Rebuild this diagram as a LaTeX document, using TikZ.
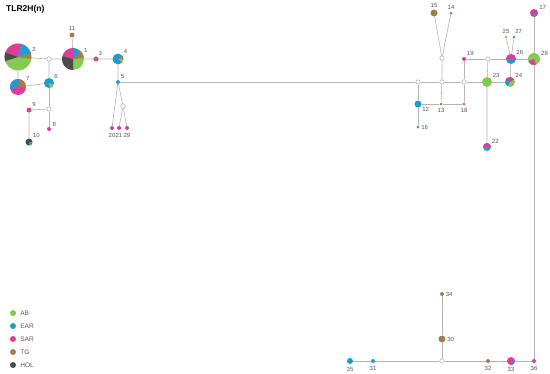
\documentclass[tikz,border=0pt]{standalone}
\usepackage{fontspec}
\setmainfont{Liberation Sans}
\usetikzlibrary{positioning}
\definecolor{colAB}{HTML}{86C94F}
\definecolor{colEAR}{HTML}{1D9ED3}
\definecolor{colSAR}{HTML}{E03A9B}
\definecolor{colTG}{HTML}{A87A4E}
\definecolor{colHOL}{HTML}{4B4B4B}
\definecolor{edgegray}{HTML}{B4B4B4}
\definecolor{numgray}{HTML}{555555}
\tikzset{
  hap/.style={circle, inner sep=0pt, minimum size=#1},
  medv/.style={circle, draw=edgegray, fill=white, line width=0.6pt, inner sep=0pt, minimum size=4.5pt},
  hnum/.style={text=numgray, font=\fontsize{6}{7}\selectfont, inner sep=0.8pt},
  legtxt/.style={text=numgray, font=\fontsize{6.5}{8}\selectfont, inner sep=0.5pt},
  hline/.style={draw=edgegray, line width=0.6pt},
}
% one wedge of a pie: node, radius (pt), start, end, colour
\newcommand{\hslice}[5]{\fill[#5] (#1.center) -- ++(#3:#2pt) arc[start angle=#3, end angle=#4, radius=#2pt] -- cycle;}

\begin{document}
\begin{tikzpicture}[x=1pt, y=-1pt, label distance=0.6pt]
  \useasboundingbox (0,0) rectangle (550,373);
  \node[anchor=west, font=\fontsize{8.5}{10}\selectfont\bfseries, inner sep=0pt] (title) at (6,9) {TLR2H(n)};

  % left cluster
  \node[hap=27pt, fill=colAB, label={[hnum]20:2}] (h2) at (18,57) {};
  \node[medv] (m1) at (49,59) {};
  \node[hap=22pt, fill=colAB, label={[hnum]30:1}] (h1) at (73,59) {};
  \node[hap=5pt, fill=colTG, label={[hnum]90:11}] (h11) at (72,35) {};
  \node[hap=5pt, fill=colSAR, label={[hnum]60:3}] (h3) at (96,59) {};
  \node[hap=11pt, fill=colEAR, label={[hnum]40:4}] (h4) at (118,59) {};
  \node[hap=4pt, fill=colEAR, label={[hnum]45:5}] (h5) at (118,82) {};
  \node[hap=10pt, fill=colEAR, label={[hnum]40:6}] (h6) at (49,83) {};
  \node[hap=16pt, fill=colSAR, label={[hnum]35:7}] (h7) at (18,87) {};
  \node[medv] (m2) at (49,109) {};
  \node[hap=5pt, fill=colSAR, label={[hnum]45:9}] (h9) at (29,110) {};
  \node[hap=4pt, fill=colSAR, label={[hnum]25:8}] (h8) at (49,129) {};
  \node[hap=7pt, fill=colHOL, label={[hnum]45:10}] (h10) at (29,142) {};
  \node[medv] (m3) at (123,106) {};
  \node[hap=4pt, fill=colSAR, label={[hnum,label distance=2pt]-90:20}] (h20) at (112,128) {};
  \node[hap=4pt, fill=colSAR, label={[hnum,label distance=2pt]-90:21}] (h21) at (119,128) {};
  \node[hap=4pt, fill=colSAR, label={[hnum,label distance=2pt]-90:29}] (h29) at (127,128) {};

  % right cluster
  \node[medv] (mA) at (418,82) {};
  \node[medv] (mB) at (442,82) {};
  \node[medv] (mC) at (464,82) {};
  \node[medv] (mD) at (442,58) {};
  \node[medv] (mE) at (488,59) {};
  \node[hap=7pt, fill=colEAR, label={[hnum]-40:12}] (h12) at (418,104) {};
  \node[hap=3pt, fill=colEAR, label={[hnum]0:16}] (h16) at (418,127) {};
  \node[hap=3pt, fill=colTG, label={[hnum,label distance=2pt]-90:13}] (h13) at (441,104) {};
  \node[hap=3pt, fill=colTG, label={[hnum,label distance=2pt]-90:18}] (h18) at (464,104) {};
  \node[hap=7pt, fill=colTG, label={[hnum]90:15}] (h15) at (434,13) {};
  \node[hap=3pt, fill=colTG, label={[hnum]90:14}] (h14) at (451,13) {};
  \node[hap=4pt, fill=colSAR, label={[hnum]45:19}] (h19) at (464,59) {};
  \node[hap=10pt, fill=colAB, label={[hnum]35:23}] (h23) at (487,82) {};
  \node[hap=10pt, fill=colAB, label={[hnum]40:24}] (h24) at (510,82) {};
  \node[hap=10pt, fill=colEAR, label={[hnum]40:26}] (h26) at (511,59) {};
  \node[hap=3pt, fill=colAB, label={[hnum]90:25}] (h25) at (506,37) {};
  \node[hap=3pt, fill=colEAR, label={[hnum]80:27}] (h27) at (514,37) {};
  \node[hap=12pt, fill=colAB, label={[hnum]25:28}] (h28) at (534,59) {};
  \node[hap=8pt, fill=colSAR, label={[hnum]25:17}] (h17) at (534,13) {};
  \node[hap=8pt, fill=colEAR, label={[hnum]35:22}] (h22) at (487,147) {};

  % bottom row
  \node[hap=4pt, fill=colTG, label={[hnum]0:34}] (h34) at (442,294) {};
  \node[hap=7pt, fill=colTG, label={[hnum]0:30}] (h30) at (442,339) {};
  \node[medv] (mF) at (442,361) {};
  \node[hap=6pt, fill=colEAR, label={[hnum,label distance=2pt]-90:35}] (h35) at (350,361) {};
  \node[hap=4pt, fill=colEAR, label={[hnum,label distance=2pt]-90:31}] (h31) at (373,361) {};
  \node[hap=4pt, fill=colTG, label={[hnum,label distance=2pt]-90:32}] (h32) at (488,361) {};
  \node[hap=8pt, fill=colSAR, label={[hnum,label distance=1pt]-90:33}] (h33) at (511,361) {};
  \node[hap=4pt, fill=colSAR, label={[hnum,label distance=2pt]-90:36}] (h36) at (534,361) {};

  % legend
  \node[hap=6pt, fill=colAB, label={[legtxt,label distance=3.5pt]0:AB}] (legAB) at (13,313) {};
  \node[hap=6pt, fill=colEAR, label={[legtxt,label distance=3.5pt]0:EAR}] (legEAR) at (13,326) {};
  \node[hap=6pt, fill=colSAR, label={[legtxt,label distance=3.5pt]0:SAR}] (legSAR) at (13,339) {};
  \node[hap=6pt, fill=colTG, label={[legtxt,label distance=3.5pt]0:TG}] (legTG) at (13,352) {};
  \node[hap=6pt, fill=colHOL, label={[legtxt,label distance=3.5pt]0:HOL}] (legHOL) at (13,365) {};

  % links
  \draw[hline] (h2) -- (m1) -- (h1) -- (h3) -- (h4) -- (h5);
  \draw[hline] (h1) -- (h11);
  \draw[hline] (h2) -- (h7) -- (h6) -- (m1);
  \draw[hline] (h6) -- (m2) -- (h8);
  \draw[hline] (m2) -- (h9) -- (h10);
  \draw[hline] (h5) -- (h20);
  \draw[hline] (h5) -- (m3) -- (h21);
  \draw[hline] (m3) -- (h29);
  \draw[hline] (h5) -- (mA) -- (mB) -- (mC) -- (h23) -- (h24);
  \draw[hline] (mA) -- (h12) -- (h16);
  \draw[hline] (h12) -- (h13) -- (h18) -- (mC);
  \draw[hline] (mB) -- (h13);
  \draw[hline] (mB) -- (mD) -- (h15);
  \draw[hline] (mD) -- (h14);
  \draw[hline] (mC) -- (h19) -- (mE) -- (h26) -- (h28);
  \draw[hline] (mE) -- (h23) -- (h22);
  \draw[hline] (h26) -- (h24);
  \draw[hline] (h26) -- (h25);
  \draw[hline] (h26) -- (h27);
  \draw[hline] (h17) -- (h28) -- (h36);
  \draw[hline] (h34) -- (h30) -- (mF);
  \draw[hline] (h35) -- (h31) -- (mF) -- (h32) -- (h33) -- (h36);

  % pie wedges
  \hslice{h2}{13.5}{15}{75}{colEAR}
  \hslice{h2}{13.5}{75}{160}{colSAR}
  \hslice{h2}{13.5}{160}{198}{colHOL}
  \hslice{h2}{13.5}{352}{375}{colTG}
  \hslice{h1}{11}{5}{45}{colTG}
  \hslice{h1}{11}{45}{90}{colEAR}
  \hslice{h1}{11}{90}{165}{colSAR}
  \hslice{h1}{11}{165}{270}{colHOL}
  \hslice{h7}{8}{0}{85}{colTG}
  \hslice{h7}{8}{85}{200}{colEAR}
  \hslice{h6}{5}{-80}{-20}{colAB}
  \hslice{h4}{5.5}{-40}{0}{colAB}
  \hslice{h4}{5.5}{0}{35}{colTG}
  \hslice{h3}{2.5}{0}{180}{colTG}
  \hslice{h10}{3.5}{-90}{0}{colEAR}
  \hslice{h24}{5}{30}{150}{colSAR}
  \hslice{h24}{5}{150}{240}{colEAR}
  \hslice{h26}{5}{0}{180}{colSAR}
  \hslice{h28}{6}{200}{290}{colSAR}
  \hslice{h17}{4}{-90}{0}{colEAR}
  \hslice{h22}{4}{0}{180}{colSAR}
  \hslice{h33}{4}{-90}{-20}{colEAR}
\end{tikzpicture}
\end{document}
